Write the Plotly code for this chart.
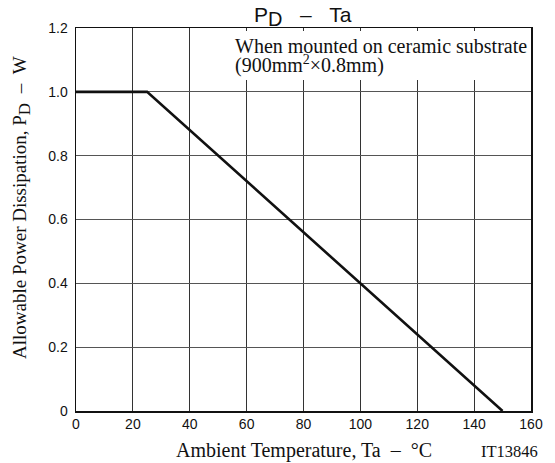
import plotly.graph_objects as go

# Data
temp_c = [0, 25, 150]
power_w = [1.0, 1.0, 0.0]
x_ticks = [0, 20, 40, 60, 80, 100, 120, 140, 160]
x_ticktext = ["0", "20", "40", "60", "80", "100", "120", "140", "160"]
y_ticks = [0, 0.2, 0.4, 0.6, 0.8, 1.0, 1.2]
y_ticktext = ["0", "0.2", "0.4", "0.6", "0.8", "1.0", "1.2"]

W, H = 555, 463
L, T = 76, 28
R = W - 539
B = H - 411
pw, ph = W - L - R, H - T - B

def px(xp):
    return (xp - L) / pw

def py(yp):
    return (H - B - yp) / ph

SERIF = "Liberation Serif, Times New Roman, serif"
SANS = "Liberation Sans, Arial, sans-serif"
NB = "\u00a0"

fig = go.Figure()
fig.add_trace(go.Scatter(x=temp_c, y=power_w, mode="lines",
                         line=dict(color="#111111", width=2.6),
                         hoverinfo="skip", showlegend=False))

fig.update_layout(
    width=W, height=H,
    margin=dict(l=L, r=R, t=T, b=B, pad=0),
    paper_bgcolor="white", plot_bgcolor="white",
    showlegend=False,
    xaxis=dict(range=[0, 160], tickvals=x_ticks, ticktext=x_ticktext,
               showgrid=True, gridcolor="#333333", gridwidth=1,
               zeroline=False, showline=True, linecolor="#111111", linewidth=1.5,
               mirror=True, ticks="", ticklabelstandoff=0,
               tickfont=dict(family=SANS, size=14, color="#111111")),
    yaxis=dict(range=[0, 1.2], tickvals=y_ticks, ticktext=y_ticktext,
               showgrid=True, gridcolor="#555555", gridwidth=1,
               zeroline=False, showline=True, linecolor="#111111", linewidth=1.5,
               mirror=True, ticks="", ticklabelstandoff=4,
               tickfont=dict(family=SANS, size=14, color="#111111")),
)

# White box behind the condition note (covers grid lines)
fig.add_shape(type="rect", xref="paper", yref="paper",
              x0=px(228), x1=px(537), y0=py(80), y1=py(31),
              fillcolor="white", line=dict(width=0), layer="above")

title_text = ("P<sub><span style='font-size:20px'>D</span></sub>"
              + NB * 3 + "–" + NB * 3 + "Ta")

annotations = [
    dict(text=title_text, x=px(307), y=py(16), xref="paper", yref="paper",
         xanchor="center", yanchor="middle", showarrow=False,
         font=dict(family=SANS, size=21, color="#111111")),
    dict(text="When mounted on ceramic substrate", x=px(236), y=py(46), xref="paper", yref="paper",
         xanchor="left", yanchor="middle", showarrow=False,
         font=dict(family=SERIF, size=20, color="#111111")),
    dict(text="(900mm<sup>2</sup>×0.8mm)", x=px(236), y=py(64), xref="paper", yref="paper",
         xanchor="left", yanchor="middle", showarrow=False,
         font=dict(family=SERIF, size=20, color="#111111")),
    dict(text="Ambient Temperature, Ta" + NB * 2 + "–" + NB * 2 + "°C", x=px(308), y=py(450),
         xref="paper", yref="paper", xanchor="center", yanchor="middle", showarrow=False,
         font=dict(family=SERIF, size=20, color="#111111")),
    dict(text="IT13846", x=px(548), y=py(451), xref="paper", yref="paper",
         xanchor="right", yanchor="middle", showarrow=False,
         font=dict(family=SERIF, size=16.5, color="#111111")),
    dict(text="Allowable Power Dissipation, P<sub><span style='font-size:17px'>D</span></sub>"
              + NB * 2 + "–" + NB * 2 + "W", x=px(20), y=py(207),
         xref="paper", yref="paper", xanchor="center", yanchor="middle",
         textangle=-90, showarrow=False,
         font=dict(family=SERIF, size=19, color="#111111")),
]
fig.update_layout(annotations=annotations)

fig.write_html("out.html",
               config={"displayModeBar": False, "staticPlot": True},
               post_script="document.body.style.margin='0px';document.body.style.overflow='hidden';")
